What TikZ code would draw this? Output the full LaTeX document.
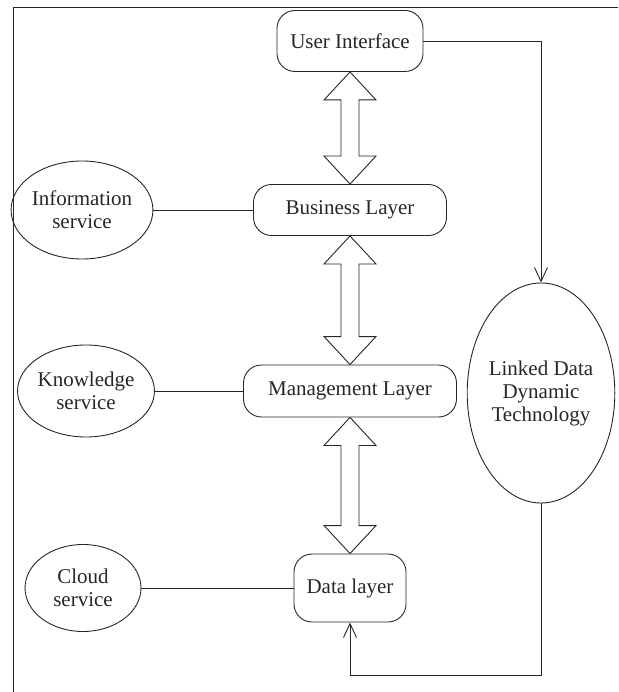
\documentclass[tikz,border=0pt]{standalone}
\usepackage{fontspec}
\setmainfont{Liberation Serif}
\usetikzlibrary{shapes.geometric,arrows.meta,calc}

\newcommand{\layerarrow}[2]{%
  \draw [widearrow] let \p1=(#1.south), \p2=(#2.north) in
    (\x1,\y1) -- (\x1-26pt,\y1-28pt) -- (\x1-9pt,\y1-28pt) -- (\x1-9pt,\y2+28pt)
    -- (\x1-26pt,\y2+28pt) -- (\x1,\y2) -- (\x1+26pt,\y2+28pt) -- (\x1+9pt,\y2+28pt)
    -- (\x1+9pt,\y1-28pt) -- (\x1+26pt,\y1-28pt) -- cycle;
}

\begin{document}
\begin{tikzpicture}[x=1pt,y=-1pt,line width=0.9pt,black!85,
  font=\fontsize{21}{23}\selectfont,
  layerbox/.style={draw,rounded corners=18pt,align=center,inner sep=0pt},
  servicebox/.style={draw,ellipse,align=center,inner sep=0pt},
  widearrow/.style={line join=miter},
  flow/.style={-{Straight Barb[length=14pt,width=13pt]}}]
\useasboundingbox (0,0) rectangle (618,692);
\draw (618,7) -- (13,7) -- (13,692);

% layers
\node [layerbox,minimum width=146pt,minimum height=61pt] (UI) at (350,41) {User Interface};
\node [layerbox,minimum width=193pt,minimum height=51pt] (BL) at (350,210) {Business Layer};
\node [layerbox,minimum width=213pt,minimum height=52pt] (ML) at (350,391) {Management Layer};
\node [layerbox,minimum width=112pt,minimum height=68pt] (DL) at (350,588) {Data layer};

% services
\node [servicebox,minimum width=132pt,minimum height=98pt] (IS) at (82,210) {Information\\service};
\node [servicebox,minimum width=125pt,minimum height=92pt] (KS) at (86,391) {Knowledge\\service};
\node [servicebox,minimum width=116pt,minimum height=87pt] (CS) at (83,588) {Cloud\\service};
\node [servicebox,minimum width=135pt,minimum height=220pt] (LD) at (541,393) {Linked Data\\Dynamic\\Technology};

\layerarrow{UI}{BL}
\layerarrow{BL}{ML}
\layerarrow{ML}{DL}

\draw (IS) -- (BL);
\draw (KS) -- (ML);
\draw (CS) -- (DL);

\coordinate (back) at (541,675);
\draw [flow] (UI.east) -| (LD.north);
\draw [flow] (LD.south) -- (back) -| (DL.south);
\end{tikzpicture}
\end{document}
